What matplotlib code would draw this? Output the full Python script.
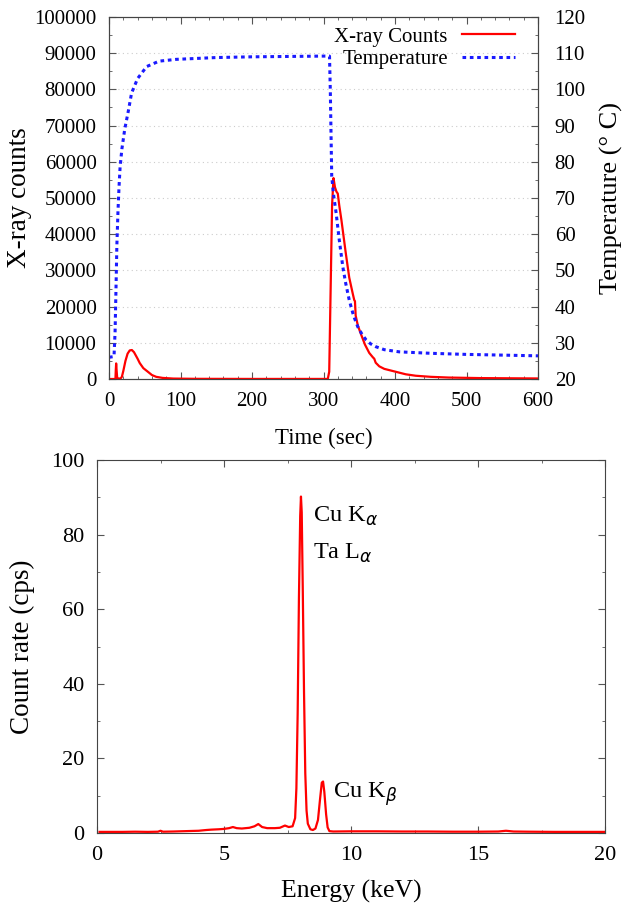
import matplotlib
matplotlib.use("Agg")
import matplotlib.pyplot as plt
from matplotlib.ticker import MultipleLocator

plt.rcParams['font.family'] = ['Liberation Serif', 'DejaVu Serif']
plt.rcParams['mathtext.fontset'] = 'dejavusans'

# ---- Top panel data: X-ray counts and temperature vs time ----
xray_time = [0, 9, 9.5, 10, 10.6, 11.5, 16, 18, 20, 23, 26, 29, 32, 35, 40, 43, 48, 55, 60, 66, 75, 90,
             120, 200, 306, 308, 310, 312, 314, 316, 318, 320, 322, 325, 331, 336, 341, 343, 344, 345,
             348, 352, 358, 364, 369, 371, 373, 378, 385, 401, 415, 429, 450, 475, 520, 600]
xray_counts = [0, 0, 2500, 4300, 2500, 200, 100, 600, 2200, 5000, 7000, 7900, 8000, 7400, 5600, 4400,
               3000, 1900, 1100, 600, 300, 120, 50, 20, 20, 2000, 25000, 48000, 55500, 53000, 51800,
               51200, 48000, 44000, 35000, 28000, 23500, 21800, 21500, 17500, 14800, 12600, 9500, 7200,
               6000, 5600, 4500, 3500, 2800, 2000, 1300, 900, 600, 400, 250, 150]

temp_time = [0, 7, 8.5, 10, 11, 12.5, 14, 15.5, 18, 22, 27, 31.6, 40, 52.6, 70, 94, 150, 200, 300,
             308.4, 309.5, 310.5, 311.5, 314, 317.7, 322, 327, 331, 336, 342, 348, 354, 359.6, 366,
             373.5, 385, 406, 450, 499, 550, 600]
temperature = [26.0, 26.2, 33, 47, 57, 66, 73, 78.5, 83.5, 89, 94, 99, 103, 106.3, 107.8, 108.3,
               108.8, 109.0, 109.2, 109.2, 100, 88, 76, 71, 65.8, 58.5, 51, 46.5, 41.8, 37.5, 34.4,
               32.3, 30.8, 29.7, 28.9, 28.1, 27.5, 27.1, 26.8, 26.6, 26.4]

# ---- Bottom panel data: X-ray spectrum ----
energy = [0.1, 0.5, 1.0, 1.5, 2.0, 2.4, 2.5, 2.6, 3.0, 3.5, 4.0, 4.3, 4.5, 4.8, 5.0, 5.2, 5.35, 5.5,
          5.7, 6.0, 6.2, 6.35, 6.5, 6.7, 7.0, 7.2, 7.4, 7.55, 7.7, 7.8, 7.85, 7.9, 7.95, 8.0, 8.03,
          8.06, 8.1, 8.15, 8.2, 8.25, 8.3, 8.4, 8.5, 8.6, 8.7, 8.78, 8.85, 8.9, 8.95, 9.02, 9.08, 9.15,
          9.3, 10.0, 11.0, 12.0, 13.0, 14.0, 15.0, 15.8, 16.1, 16.4, 17.0, 18.0, 19.0, 20.0]
count_rate = [0.3, 0.3, 0.3, 0.35, 0.3, 0.35, 0.6, 0.35, 0.4, 0.5, 0.6, 0.8, 0.9, 1.0, 1.1, 1.3,
              1.6, 1.3, 1.2, 1.4, 1.8, 2.4, 1.6, 1.3, 1.3, 1.4, 2.0, 1.6, 1.8, 4.0, 12, 32, 63, 85,
              90.2, 86, 66, 38, 16, 6, 2.5, 1.0, 0.8, 1.2, 3.5, 9, 13.5, 13.8, 11, 5, 1.5, 0.5, 0.4,
              0.45, 0.45, 0.4, 0.4, 0.35, 0.35, 0.4, 0.6, 0.4, 0.35, 0.3, 0.3, 0.3]

W, H = 629, 907
fig = plt.figure(figsize=(W / 100, H / 100), dpi=100)

FS = 15
red = '#ff0000'
blue = '#1a1aff'

# ---------- Top panel ----------
ax1 = fig.add_axes([109 / W, 1 - 379 / H, (538 - 109) / W, (379 - 17) / H])
ax1.set_xlim(0, 600)
ax1.set_ylim(0, 100000)
for yv in range(10000, 100000, 10000):
    ax1.axhline(yv, color='#cccccc', lw=0.8, ls=(0, (1, 3)), zorder=0)
ln1, = ax1.plot(xray_time, xray_counts, color=red, lw=1.6, label='X-ray Counts', zorder=3)
ax2 = ax1.twinx()
ax2.set_ylim(20, 120)
ln2, = ax2.plot(temp_time, temperature, color=blue, lw=2.2, ls=(0, (1.2, 1.2)), label='Temperature')

ax1.xaxis.set_major_locator(MultipleLocator(100))
ax1.xaxis.set_minor_locator(MultipleLocator(20))
ax1.yaxis.set_major_locator(MultipleLocator(10000))
ax1.yaxis.set_minor_locator(MultipleLocator(5000))
ax2.yaxis.set_major_locator(MultipleLocator(10))
ax2.yaxis.set_minor_locator(MultipleLocator(5))
ax1.tick_params(which='both', direction='in', top=True, right=False, labelsize=FS, color='#555555')
ax1.tick_params(which='major', length=5, pad=9)
ax1.tick_params(which='minor', length=2.5)
ax2.tick_params(which='both', direction='in', labelsize=FS, color='#555555')
ax2.tick_params(which='major', length=5, pad=12)
ax2.tick_params(which='minor', length=2.5)
for sp in ax1.spines.values():
    sp.set_color('#444444')
for sp in ax2.spines.values():
    sp.set_color('#444444')

ax1.set_xlabel('Time (sec)', fontsize=16.5)
ax1.set_ylabel('X-ray counts', fontsize=19.5)
ax2.set_ylabel('Temperature (° C)', fontsize=19)
ax1.xaxis.set_label_coords(0.5, -0.135)
ax1.yaxis.set_label_coords(-0.18, 0.5)
ax2.yaxis.set_label_coords(1.145, 0.5)

leg = ax1.legend(handles=[ln1, ln2], loc='upper right', bbox_to_anchor=(0.946, 0.972),
                 frameon=False, fontsize=FS, markerfirst=False, handlelength=2.55,
                 handletextpad=0.67, borderaxespad=0, borderpad=0, labelspacing=0.12)

# ---------- Bottom panel ----------
ax3 = fig.add_axes([97 / W, 1 - 833 / H, (605 - 97) / W, (833 - 460) / H])
ax3.plot(energy, count_rate, color=red, lw=1.6)
ax3.set_xlim(0, 20)
ax3.set_ylim(0, 100)
ax3.xaxis.set_major_locator(MultipleLocator(5))
ax3.xaxis.set_minor_locator(MultipleLocator(2.5))
ax3.yaxis.set_major_locator(MultipleLocator(20))
ax3.yaxis.set_minor_locator(MultipleLocator(10))
ax3.tick_params(which='both', direction='in', top=True, right=True, labelsize=16, color='#555555')
ax3.tick_params(which='major', length=5, pad=9)
ax3.tick_params(which='minor', length=2.5)
for sp in ax3.spines.values():
    sp.set_color('#444444')
ax3.set_xlabel('Energy (keV)', fontsize=18.5)
ax3.set_ylabel('Count rate (cps)', fontsize=19.5)
ax3.xaxis.set_label_coords(0.5, -0.125)
ax3.yaxis.set_label_coords(-0.122, 0.5)

ax3.text(8.5, 85, r'Cu K$_{\alpha}$', fontsize=17.5, va='center', ha='left')
ax3.text(8.5, 75, r'Ta L$_{\alpha}$', fontsize=17.5, va='center', ha='left')
ax3.text(9.3, 10.5, r'Cu K$_{\beta}$', fontsize=17.5, va='center', ha='left')

fig.savefig('out.png', dpi=100)
